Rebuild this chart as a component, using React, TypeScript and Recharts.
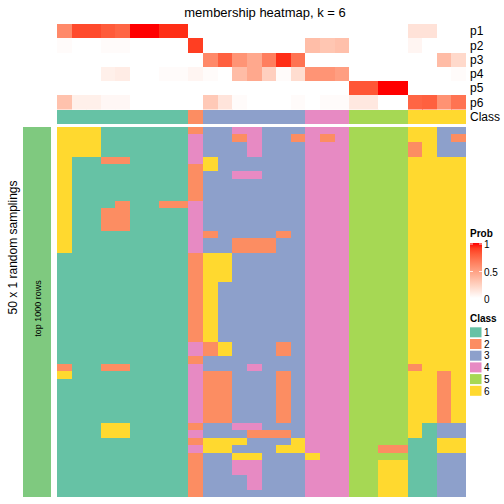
import { BarChart, Bar, XAxis, YAxis, Cell } from "recharts";

// 28 samples (columns), ordered as in the heatmap
const samples = [
  "s01", "s02", "s03", "s04", "s05", "s06", "s07", "s08", "s09", "s10",
  "s11", "s12", "s13", "s14", "s15", "s16", "s17", "s18", "s19", "s20",
  "s21", "s22", "s23", "s24", "s25", "s26", "s27", "s28",
];

// membership probabilities per class
const p1 = [0.6, 0.86, 0.86, 0.8, 0.76, 1, 1, 0.94, 0.94, 0, 0, 0, 0, 0, 0, 0, 0, 0, 0, 0, 0, 0, 0, 0, 0.15, 0.15, 0, 0];
const p2 = [0.02, 0, 0, 0.02, 0.02, 0, 0, 0, 0, 0.9, 0, 0, 0, 0, 0, 0, 0, 0.34, 0.3, 0.33, 0, 0, 0, 0, 0.05, 0, 0, 0];
const p3 = [0, 0, 0, 0, 0, 0, 0, 0, 0, 0, 0.6, 0.78, 0.55, 0.45, 0.65, 0.94, 0.7, 0, 0, 0, 0, 0, 0, 0, 0, 0, 0.35, 0.2];
const p4 = [0, 0, 0, 0.08, 0.1, 0, 0, 0.02, 0.02, 0.05, 0.02, 0, 0.35, 0.45, 0.25, 0.02, 0.18, 0.55, 0.55, 0.5, 0, 0, 0, 0, 0, 0, 0, 0.02];
const p5 = [0, 0, 0, 0, 0, 0, 0, 0, 0, 0, 0, 0, 0, 0, 0, 0, 0, 0, 0, 0, 0.82, 0.82, 1, 1, 0, 0, 0, 0];
const p6 = [0.32, 0.08, 0.08, 0.04, 0.04, 0, 0, 0, 0, 0, 0.28, 0.14, 0.02, 0, 0, 0, 0.02, 0, 0.02, 0.02, 0.12, 0.12, 0, 0, 0.76, 0.78, 0.56, 0.7];
const memberRows = ["p1", "p2", "p3", "p4", "p5", "p6"];
const memberValues = [p1, p2, p3, p4, p5, p6];

// consensus class of each sample
const sampleClass = "1111111112333333344455556666";

// class of each sample in each of the 50 random samplings
const samplingClasses = [
  "6661111112334433344455556633",
  "6661111114332433242455556632",
  "6661111114333433344455552633",
  "6661111114333433344455552633",
  "6112211114633333344455556666",
  "6111111112633333344455556666",
  "6111111112334433344455556666",
  "6111111112333333344455556666",
  "6111111112333333344455556666",
  "6111111112333333344455556666",
  "6111211224333333344455556666",
  "6112211114333333344455556666",
  "6112211114333333344455556666",
  "6112211114333333344455556666",
  "6111111114233332344455556666",
  "6111111114332223344455556666",
  "6111111114332223344455556666",
  "1111111112663333344455556666",
  "1111111112663333344455556666",
  "1111111112663333344455556666",
  "1111111112663333344455556666",
  "1111111112633333344455556666",
  "1111111112633333344455556666",
  "1111111112633333344455556666",
  "1111111112633333344455556666",
  "1111111112633333344455556666",
  "1111111112633333344455556666",
  "1111111112633333344455556666",
  "1111111112633333344455556666",
  "1111111114263332344455556666",
  "1111111114263332344455556666",
  "1111111112333333344455556666",
  "2112211114333433344455552666",
  "6111111114223332344455556626",
  "1111111114223332344455556626",
  "1111111114223332344455556626",
  "1111111114223332344455556626",
  "1111111114223332344455556626",
  "1111111114223332344455556626",
  "1111111114223332344455556626",
  "1116611112334433344455556133",
  "1116611114333222344455556133",
  "1111111112666333644455551166",
  "1111111114663336644455221166",
  "1111111112336633364455551133",
  "1111111112334433344455661133",
  "1111111112334433344455661133",
  "1111111112333433344455661133",
  "1111111112333433344455661133",
  "1111111112333333344455661133",
];

const classColors: Record<string, string> = {
  "1": "#66C2A5",
  "2": "#FC8D62",
  "3": "#8DA0CB",
  "4": "#E78AC3",
  "5": "#A6D854",
  "6": "#FFD92F",
};
const legendClasses = ["1", "2", "3", "4", "5", "6"];
const probTicks = [1, 0.5, 0];

// white -> red, interpolated in LAB like circlize::colorRamp2
const probColor = (v: number) => {
  const L = 100 + (53.24 - 100) * v;
  const a = 80.09 * v;
  const b = 67.2 * v;
  const fy = (L + 16) / 116;
  const fx = fy + a / 500;
  const fz = fy - b / 200;
  const inv = (t: number) => (t ** 3 > 0.008856 ? t ** 3 : (t - 16 / 116) / 7.787);
  const X = 0.95047 * inv(fx);
  const Y = inv(fy);
  const Z = 1.08883 * inv(fz);
  const lin = [
    3.2406 * X - 1.5372 * Y - 0.4986 * Z,
    -0.9689 * X + 1.8758 * Y + 0.0415 * Z,
    0.0557 * X - 0.204 * Y + 1.057 * Z,
  ];
  const rgb = lin.map((c) => {
    const s = c <= 0.0031308 ? 12.92 * c : 1.055 * Math.pow(c, 1 / 2.4) - 0.055;
    return Math.round(Math.min(1, Math.max(0, s)) * 255);
  });
  return `rgb(${rgb[0]},${rgb[1]},${rgb[2]})`;
};

const GRID_LEFT = 57;
const GRID_WIDTH = 409;

interface TileGridProps {
  top: number;
  height: number;
  rowKeys: string[];
  colors: string[][];
}

const TileGrid = ({ top, height, rowKeys, colors }: TileGridProps) => {
  const data = samples.map((s) => {
    const d: Record<string, string | number> = { sample: s };
    rowKeys.forEach((k) => (d[k] = 1));
    return d;
  });
  return (
    <div style={{ position: "absolute", left: GRID_LEFT, top }}>
      <BarChart width={GRID_WIDTH} height={height} data={data} barCategoryGap={0} barGap={0} margin={{ top: 0, right: 0, bottom: 0, left: 0 }}>
        <XAxis dataKey="sample" hide />
        <YAxis type="number" domain={[0, rowKeys.length]} hide reversed allowDataOverflow />
        {rowKeys.map((k, ri) => (
          <Bar key={k} dataKey={k} stackId="grid" isAnimationActive={false}>
            {samples.map((s, ci) => (
              <Cell key={s} fill={colors[ri][ci]} />
            ))}
          </Bar>
        ))}
      </BarChart>
    </div>
  );
};

const App = () => {
  const memberColors = memberValues.map((row) => row.map(probColor));
  const classRow = [sampleClass.split("").map((c) => classColors[c])];
  const samplingKeys = samplingClasses.map((_, i) => `r${i}`);
  const samplingColors = samplingClasses.map((row) => row.split("").map((c) => classColors[c]));
  const font = "'Liberation Sans', Arial, sans-serif";

  return (
    <div style={{ position: "absolute", left: 0, top: 0, width: 504, height: 504, background: "#fff", fontFamily: font }}>
      <style>{".recharts-wrapper svg rect, .recharts-wrapper svg path { shape-rendering: crispEdges; }"}</style>
      <TileGrid top={24} height={85.5} rowKeys={memberRows} colors={memberColors} />
      <TileGrid top={110} height={14} rowKeys={["Class"]} colors={classRow} />
      <TileGrid top={127} height={370} rowKeys={samplingKeys} colors={samplingColors} />

      <svg width={504} height={504} style={{ position: "absolute", left: 0, top: 0, pointerEvents: "none" }}>
        <defs>
          <linearGradient id="probGrad" x1="0" y1="0" x2="0" y2="1">
            {[1, 0.9, 0.8, 0.7, 0.6, 0.5, 0.4, 0.3, 0.2, 0.1, 0].map((v) => (
              <stop key={v} offset={1 - v} stopColor={probColor(v)} />
            ))}
          </linearGradient>
        </defs>
        <text x={265} y={17} textAnchor="middle" fontSize={13} fill="#000">
          membership heatmap, k = 6
        </text>
        {[...memberRows, "Class"].map((lab, i) => (
          <text key={lab} x={470} y={24 + 14.25 * i + 11.3} fontSize={12} fill="#000">
            {lab}
          </text>
        ))}

        <rect x={23} y={127} width={28} height={370} fill="#7FC97F" />
        <text transform="translate(17,247.5) rotate(-90)" textAnchor="middle" fontSize={12} fill="#000">
          50 x 1 random samplings
        </text>
        <text transform="translate(41,308.5) rotate(-90)" textAnchor="middle" fontSize={9} fill="#000">
          top 1000 rows
        </text>

        <text x={470} y={237} fontSize={10} fontWeight="bold" fill="#000">
          Prob
        </text>
        <rect x={470} y={243} width={12} height={55} fill="url(#probGrad)" />
        {probTicks.map((t) => {
          const y = 298 - 55 * t;
          return (
            <g key={t}>
              {t > 0 && <line x1={470} x2={473} y1={y + 1} y2={y + 1} stroke="#fff" strokeWidth={0.8} />}
              {t > 0 && <line x1={479} x2={482} y1={y + 1} y2={y + 1} stroke="#fff" strokeWidth={0.8} />}
              <text x={484} y={y + 5} fontSize={10} fill="#000">
                {t}
              </text>
            </g>
          );
        })}

        <text x={470} y={322} fontSize={10} fontWeight="bold" fill="#000">
          Class
        </text>
        {legendClasses.map((c, i) => (
          <g key={c}>
            <rect x={470} y={327.3 + 11.7 * i} width={11.5} height={10} fill={classColors[c]} />
            <text x={484} y={336 + 11.7 * i} fontSize={10} fill="#000">
              {c}
            </text>
          </g>
        ))}
      </svg>
    </div>
  );
};

export default App;
